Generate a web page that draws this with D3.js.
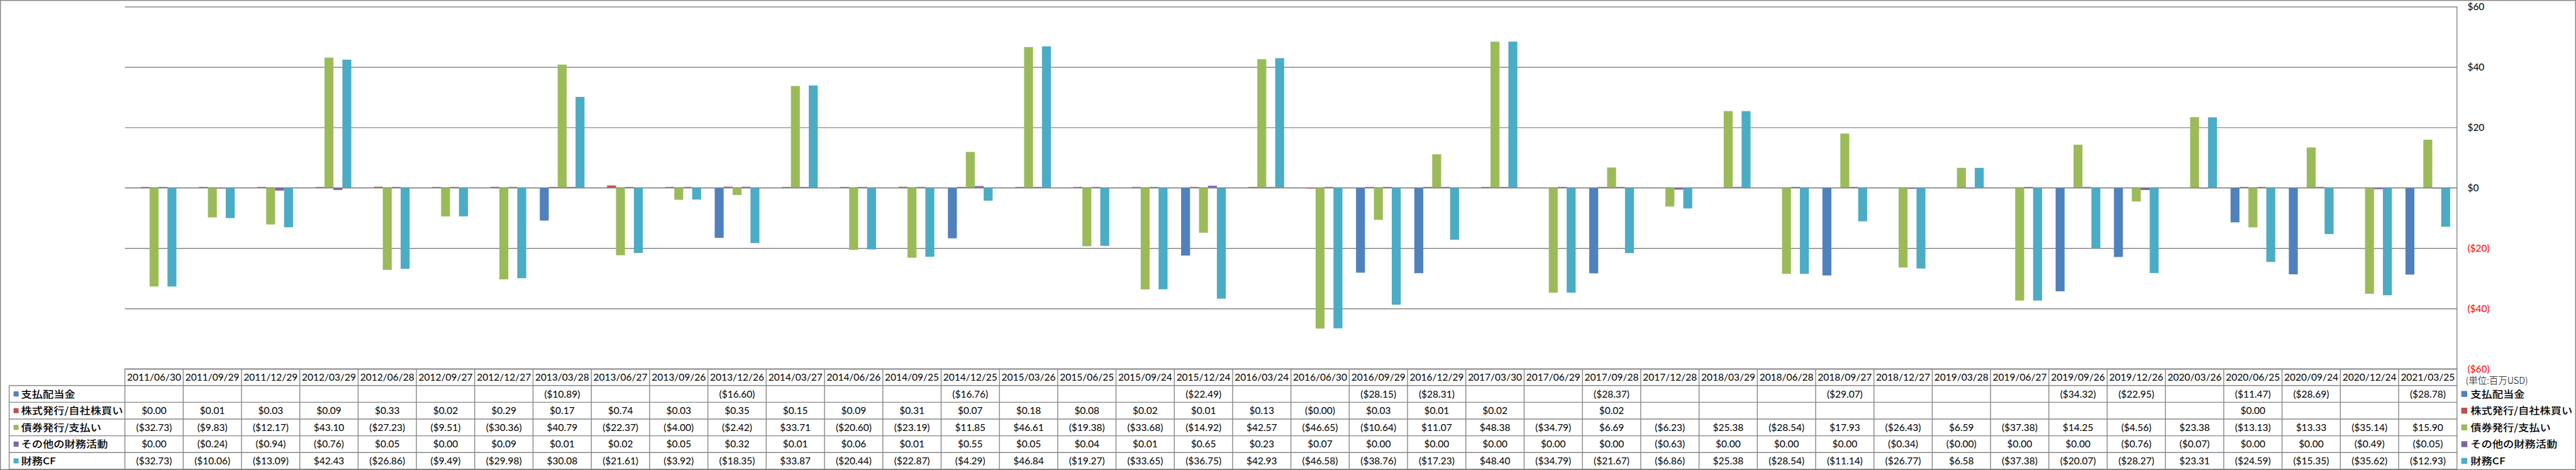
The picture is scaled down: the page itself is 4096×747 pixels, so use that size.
<!DOCTYPE html>
<html><head><meta charset="utf-8">
<script src="https://cdn.jsdelivr.net/npm/d3@7"></script>
<style>body{margin:0;background:#fff}svg{display:block}</style>
</head><body><svg id="c" width="4096" height="747"></svg>
<script>
const dates = ["2011/06/30","2011/09/29","2011/12/29","2012/03/29","2012/06/28","2012/09/27","2012/12/27","2013/03/28","2013/06/27","2013/09/26","2013/12/26","2014/03/27","2014/06/26","2014/09/25","2014/12/25","2015/03/26","2015/06/25","2015/09/24","2015/12/24","2016/03/24","2016/06/30","2016/09/29","2016/12/29","2017/03/30","2017/06/29","2017/09/28","2017/12/28","2018/03/29","2018/06/28","2018/09/27","2018/12/27","2019/03/28","2019/06/27","2019/09/26","2019/12/26","2020/03/26","2020/06/25","2020/09/24","2020/12/24","2021/03/25"];
const seriesNames = ["支払配当金","株式発行/自社株買い","債券発行/支払い","その他の財務活動","財務CF"];
const seriesColors = ["#4F81BD","#C0504D","#9BBB59","#8064A2","#4BACC6"];
const dividends = [null,null,null,null,null,null,null,-10.89,null,null,-16.60,null,null,null,-16.76,null,null,null,-22.49,null,null,-28.15,-28.31,null,null,-28.37,null,null,null,-29.07,null,null,null,-34.32,-22.95,null,-11.47,-28.69,null,-28.78];
const stockIssue = [0.00,0.01,0.03,0.09,0.33,0.02,0.29,0.17,0.74,0.03,0.35,0.15,0.09,0.31,0.07,0.18,0.08,0.02,0.01,0.13,-0,0.03,0.01,0.02,null,0.02,null,null,null,null,null,null,null,null,null,null,0.00,null,null,null];
const debtIssue = [-32.73,-9.83,-12.17,43.10,-27.23,-9.51,-30.36,40.79,-22.37,-4.00,-2.42,33.71,-20.60,-23.19,11.85,46.61,-19.38,-33.68,-14.92,42.57,-46.65,-10.64,11.07,48.38,-34.79,6.69,-6.23,25.38,-28.54,17.93,-26.43,6.59,-37.38,14.25,-4.56,23.38,-13.13,13.33,-35.14,15.90];
const otherFin = [0.00,-0.24,-0.94,-0.76,0.05,0.00,0.09,0.01,0.02,0.05,0.32,0.01,0.06,0.01,0.55,0.05,0.04,0.01,0.65,0.23,0.07,0.00,0.00,0.00,0.00,0.00,-0.63,0.00,0.00,0.00,-0.34,-0,0.00,0.00,-0.76,-0.07,0.00,0.00,-0.49,-0.05];
const financingCF = [-32.73,-10.06,-13.09,42.43,-26.86,-9.49,-29.98,30.08,-21.61,-3.92,-18.35,33.87,-20.44,-22.87,-4.29,46.84,-19.27,-33.65,-36.75,42.93,-46.58,-38.76,-17.23,48.40,-34.79,-21.67,-6.86,25.38,-28.54,-11.14,-26.77,6.58,-37.38,-20.07,-28.27,23.31,-24.59,-15.35,-35.62,-12.93];
const yTicks = [-60,-40,-20,0,20,40,60];
const unitLabel = "(単位:百万USD)";

const series = [dividends, stockIssue, debtIssue, otherFin, financingCF];

const W = 4096, H = 747;
const plotL = 198.6, plotR = 3906.7, plotT = 10.5, plotB = 586.2;
const rowH = 26.6;
const rowHeadL = 14.6;
const gridColor = "#868686";
const numFont = "Lato, 'Open Sans', sans-serif";
const cjkFont = "'Noto Sans CJK JP', sans-serif";

const svg = d3.select("#c");

svg.append("rect").attr("x",0.7).attr("y",0.7).attr("width",W-1.4).attr("height",H-1.4)
  .attr("fill","#fff").attr("stroke",gridColor).attr("stroke-width",1.4);

const y = d3.scaleLinear().domain([-60,60]).range([plotB, plotT]);
const x0 = d3.scaleBand().domain(dates).range([plotL, plotR]).paddingInner(0.233).paddingOuter(0.1165);
const x1 = d3.scaleBand().domain(d3.range(series.length)).range([0, x0.bandwidth()]);
const xCol = d3.scaleBand().domain(dates).range([plotL, plotR]);

const grid = svg.append("g").attr("transform",`translate(${plotR},0)`)
  .call(d3.axisLeft(y).tickValues(yTicks).tickSize(plotR-plotL).tickFormat(""));
grid.select(".domain").remove();
grid.selectAll("line").attr("stroke",gridColor).attr("stroke-width",1.4);

const fmt = v => (v < 0 || Object.is(v,-0)) ? `($${Math.abs(v).toFixed(2)})` : `$${v.toFixed(2)}`;
series.forEach((vals, si) => {
  svg.append("g").selectAll("rect")
    .data(dates.map((d,i)=>({d, v: vals[i]})).filter(o => o.v !== null))
    .join("rect")
    .attr("x", o => x0(o.d) + x1(si))
    .attr("width", x1.bandwidth())
    .attr("y", o => {
      const top = y(Math.max(0,o.v)), bot = y(Math.min(0,o.v));
      if (bot - top < 1) return (o.v < 0 || Object.is(o.v,-0)) ? y(0) : y(0) - 1.2;
      return top;
    })
    .attr("height", o => Math.max(1.2, Math.abs(y(o.v) - y(0))))
    .attr("fill", seriesColors[si]);
});

svg.append("line").attr("x1",plotL).attr("x2",plotR).attr("y1",y(0)).attr("y2",y(0))
  .attr("stroke",gridColor).attr("stroke-width",1.4);

const tableBottom = plotB + rowH*6;
svg.append("line").attr("x1",plotR).attr("x2",plotR).attr("y1",plotT).attr("y2",tableBottom)
  .attr("stroke",gridColor).attr("stroke-width",1.4);

const axisG = svg.append("g").attr("transform",`translate(${plotR},0)`)
  .call(d3.axisRight(y).tickValues(yTicks).tickSize(0).tickPadding(16.7)
    .tickFormat(v => v < 0 ? `($${Math.abs(v)})` : `$${v}`));
axisG.select(".domain").remove();
axisG.selectAll("text").attr("font-family",numFont).attr("font-size",15.5)
  .attr("fill", v => v < 0 ? "#FF0000" : "#000");

svg.append("text").attr("x",3920.6).attr("y",605).attr("dy","0.35em")
  .attr("font-family",cjkFont).attr("font-size",14.5).attr("font-weight",300)
  .attr("fill","#000").text(unitLabel);

const tbl = svg.append("g");
const lineAttr = sel => sel.attr("stroke",gridColor).attr("stroke-width",1.4);
for (let r = 0; r <= 6; r++) {
  const yy = plotB + r*rowH;
  lineAttr(tbl.append("line").attr("x1", r===0 ? plotL : rowHeadL).attr("x2",plotR).attr("y1",yy).attr("y2",yy));
}
dates.forEach(d => {
  lineAttr(tbl.append("line").attr("x1",xCol(d)).attr("x2",xCol(d)).attr("y1",plotB).attr("y2",tableBottom));
});
lineAttr(tbl.append("line").attr("x1",rowHeadL).attr("x2",rowHeadL).attr("y1",plotB+rowH).attr("y2",tableBottom));

tbl.selectAll("text.hd").data(dates).join("text").attr("class","hd")
  .attr("x", d => xCol(d) + xCol.bandwidth()/2).attr("y", plotB + rowH/2).attr("dy","0.36em")
  .attr("text-anchor","middle").attr("font-family",numFont).attr("font-size",15.5).attr("fill","#000")
  .text(d => d);

series.forEach((vals, si) => {
  const cy = plotB + rowH*(si+1) + rowH/2;
  tbl.append("g").selectAll("text").data(dates.map((d,i)=>({d,v:vals[i]})).filter(o=>o.v!==null))
    .join("text")
    .attr("x", o => xCol(o.d) + xCol.bandwidth()/2).attr("y", cy).attr("dy","0.36em")
    .attr("text-anchor","middle").attr("font-family",numFont).attr("font-size",15.5).attr("fill","#000")
    .text(o => fmt(o.v));
  tbl.append("rect").attr("x",21.6).attr("y",cy-4).attr("width",8).attr("height",8).attr("fill",seriesColors[si]);
  tbl.append("text").attr("transform",`translate(33.5,${cy}) scale(1.15,1)`).attr("dy","0.36em")
    .attr("font-family",cjkFont).attr("font-size",15).attr("font-weight",500).attr("fill","#000")
    .text(seriesNames[si]);
  svg.append("rect").attr("x",3913.6).attr("y",cy-4.7).attr("width",9.5).attr("height",9.4).attr("fill",seriesColors[si]);
  svg.append("text").attr("transform",`translate(3928.3,${cy}) scale(1.15,1)`).attr("dy","0.36em")
    .attr("font-family",cjkFont).attr("font-size",15).attr("font-weight",500).attr("fill","#000")
    .text(seriesNames[si]);
});
</script></body></html>
